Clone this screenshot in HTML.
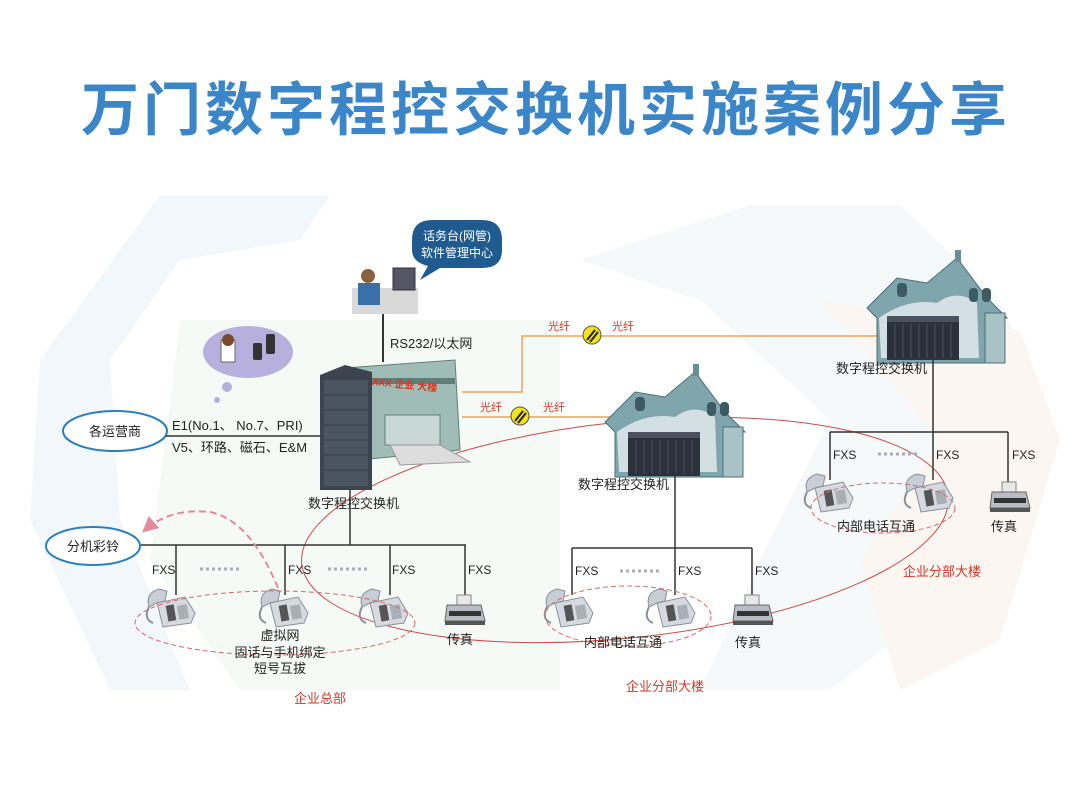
<!DOCTYPE html>
<html><head><meta charset="utf-8"><style>
body{margin:0;background:#fff}
svg{display:block}
text{font-family:"Liberation Sans","Noto Sans CJK SC",sans-serif}
</style></head><body>
<svg width="1080" height="800" viewBox="0 0 1080 800" xmlns="http://www.w3.org/2000/svg">
<defs>
<g id="phone">
<path d="M4 22 Q0 8 14 4 L22 6 L20 16 L12 18 Z" fill="#c9ced6" stroke="#8a9099" stroke-width="1"/>
<path d="M12 18 L40 12 L50 28 L46 38 L18 42 Z" fill="#d6dae0" stroke="#8a9099" stroke-width="1"/>
<rect x="22" y="20" width="8" height="16" fill="#555" transform="rotate(-10 26 28)"/>
<rect x="33" y="20" width="10" height="14" fill="#a9afb7" transform="rotate(-10 38 27)"/>
<path d="M4 22 Q-2 34 8 38" fill="none" stroke="#8a9099" stroke-width="2"/>
</g>
<g id="fax">
<rect x="12" y="0" width="14" height="10" fill="#e8e8e8" stroke="#888"/>
<path d="M2 10 L36 10 L40 26 L0 26 Z" fill="#b9bcc2" stroke="#666"/>
<rect x="4" y="16" width="32" height="5" fill="#333"/>
<rect x="0" y="26" width="40" height="4" fill="#555"/>
</g>
<g id="rack">
<rect x="0" y="0" width="72" height="44" fill="#2b313b"/>
<rect x="0" y="0" width="72" height="6" fill="#4a5260"/>
<g stroke="#48505e" stroke-width="1">
<line x1="8" y1="8" x2="8" y2="42"/><line x1="16" y1="8" x2="16" y2="42"/><line x1="24" y1="8" x2="24" y2="42"/><line x1="32" y1="8" x2="32" y2="42"/><line x1="40" y1="8" x2="40" y2="42"/><line x1="48" y1="8" x2="48" y2="42"/><line x1="56" y1="8" x2="56" y2="42"/><line x1="64" y1="8" x2="64" y2="42"/>
</g>
</g>
<g id="house">
<path d="M0 50 L30 20 L60 25 L90 0 L120 40 L140 60 L130 60 L130 105 L10 105 L10 60 Z" fill="#7fa5ad" stroke="#4d6f77"/>
<path d="M12 60 Q40 40 70 45 Q90 30 110 45 L112 100 L14 100 Z" fill="#d3dfe2"/>
<rect x="118" y="55" width="20" height="50" fill="#a9c2c6" stroke="#4d6f77"/>
<rect x="30" y="25" width="10" height="14" rx="4" fill="#3d5a63"/>
<rect x="102" y="30" width="9" height="14" rx="4" fill="#3d5a63"/>
<rect x="115" y="30" width="9" height="14" rx="4" fill="#3d5a63"/>
<rect x="88" y="-8" width="6" height="12" fill="#6b8d95"/>
</g>
<marker id="ah" markerWidth="8" markerHeight="8" refX="6" refY="4" orient="auto"><path d="M0 0 L8 4 L0 8 Z" fill="#e58a9a"/></marker>
</defs>

<polygon points="40,360 160,195 330,195 300,240 180,260 110,360 120,520 190,690 110,690 30,520" fill="#f2f7fb"/>
<polygon points="180,320 300,320 560,320 560,690 240,690 150,560" fill="#f4f9f4" opacity="0.8"/>
<polygon points="580,260 750,205 900,205 1000,300 1050,420 1000,560 830,690 700,690 760,560 830,420 700,300" fill="#f5f8f9" opacity="0.9"/>
<polygon points="820,300 1020,330 1060,440 1000,640 900,690 860,560 940,440" fill="#fcf5f1" opacity="0.9"/>

<g fill="#3a86c8" font-size="58" font-weight="bold" text-anchor="middle" style="font-family:'Noto Sans CJK SC',sans-serif">
<text x="110" y="130">万</text><text x="172" y="130">门</text><text x="234" y="130">数</text><text x="296" y="130">字</text><text x="358" y="130">程</text><text x="420" y="130">控</text><text x="482" y="130">交</text><text x="544" y="130">换</text><text x="606" y="130">机</text><text x="668" y="130">实</text><text x="730" y="130">施</text><text x="792" y="130">案</text><text x="854" y="130">例</text><text x="916" y="130">分</text><text x="978" y="130">享</text>
</g>

<ellipse cx="625" cy="530" rx="325" ry="108" fill="none" stroke="#c94a4a" stroke-width="1" transform="rotate(-6 625 530)"/>

<rect x="352" y="288" width="66" height="26" fill="#d9d9d9"/>
<rect x="393" y="268" width="22" height="22" fill="#556" stroke="#333"/>
<circle cx="368" cy="276" r="7" fill="#8a6040"/>
<rect x="358" y="283" width="22" height="22" fill="#3b6fa8"/>
<path d="M412 240 Q412 220 432 220 L482 220 Q502 220 502 240 L502 250 Q502 268 482 268 L440 268 L420 280 L428 266 Q412 262 412 250 Z" fill="#1f5b8e"/>
<text x="457" y="240" font-size="12" fill="#fff" text-anchor="middle">话务台(网管)</text>
<text x="457" y="257" font-size="12" fill="#fff" text-anchor="middle">软件管理中心</text>
<line x1="383" y1="314" x2="383" y2="362" stroke="#333" stroke-width="2"/>
<text x="390" y="348" font-size="13" fill="#222">RS232/以太网</text>

<polyline points="462,392 522,392 522,336 890,336" fill="none" stroke="#e8a45a" stroke-width="1.5"/>
<line x1="462" y1="417" x2="612" y2="417" stroke="#e8a45a" stroke-width="1.5"/>
<g font-size="11" fill="#d03a2a">
<text x="548" y="330">光纤</text><text x="612" y="330">光纤</text>
<text x="480" y="411">光纤</text><text x="543" y="411">光纤</text>
</g>
<circle cx="592" cy="335" r="9" fill="#f2e21a" stroke="#555"/>
<line x1="587" y1="340" x2="595" y2="330" stroke="#222" stroke-width="2"/><line x1="590" y1="342" x2="598" y2="332" stroke="#222" stroke-width="2"/>
<circle cx="520" cy="416" r="9" fill="#f2e21a" stroke="#555"/>
<line x1="515" y1="421" x2="523" y2="411" stroke="#222" stroke-width="2"/><line x1="518" y1="423" x2="526" y2="413" stroke="#222" stroke-width="2"/>

<path d="M345 368 L455 360 L460 450 L360 460 Z" fill="#9fbdb6" stroke="#5e7f78"/>
<rect x="360" y="378" width="95" height="6" fill="#5e7f78"/>
<text x="365" y="384" font-size="10" fill="#d32" font-weight="bold" transform="rotate(6 365 384)">XXXX 企业 大楼</text>
<rect x="385" y="415" width="55" height="30" fill="#c8d8d4" stroke="#5e7f78"/>
<path d="M390 445 L440 445 L470 462 L400 465 Z" fill="#ddd" stroke="#999"/>
<path d="M320 375 L345 365 L372 372 L372 490 L320 490 Z" fill="#3c444f"/>
<rect x="324" y="380" width="44" height="106" fill="#4b5461"/>
<g stroke="#333" stroke-width="0.8"><line x1="324" y1="395" x2="368" y2="395"/><line x1="324" y1="410" x2="368" y2="410"/><line x1="324" y1="425" x2="368" y2="425"/><line x1="324" y1="440" x2="368" y2="440"/><line x1="324" y1="455" x2="368" y2="455"/><line x1="324" y1="470" x2="368" y2="470"/></g>
<text x="308" y="508" font-size="13" fill="#222">数字程控交换机</text>

<ellipse cx="248" cy="352" rx="45" ry="26" fill="#b8b0dc"/>
<circle cx="227" cy="387" r="5" fill="#b8b0dc"/><circle cx="217" cy="400" r="3" fill="#b8b0dc"/>
<rect x="221" y="340" width="14" height="22" fill="#fff" stroke="#666"/>
<circle cx="228" cy="340" r="6" fill="#7a4a2a"/>
<rect x="253" y="343" width="9" height="17" rx="2" fill="#333"/><rect x="266" y="334" width="9" height="20" rx="2" fill="#333"/>

<ellipse cx="115" cy="431" rx="52" ry="20" fill="#fff" stroke="#2a7fc0" stroke-width="2"/>
<text x="115" y="436" font-size="13" fill="#222" text-anchor="middle">各运营商</text>
<line x1="166" y1="436" x2="320" y2="436" stroke="#333" stroke-width="1.5"/>
<text x="172" y="430" font-size="13" fill="#222">E1(No.1、 No.7、PRI)</text>
<text x="172" y="452" font-size="13" fill="#222">V5、环路、磁石、E&amp;M</text>

<g stroke="#333" stroke-width="1.5" fill="none">
<line x1="350" y1="490" x2="350" y2="545"/>
<line x1="140" y1="545" x2="466" y2="545"/>
<line x1="176" y1="545" x2="176" y2="595"/><line x1="285" y1="545" x2="285" y2="595"/>
<line x1="390" y1="545" x2="390" y2="595"/><line x1="465" y1="545" x2="465" y2="600"/>
</g>
<ellipse cx="93" cy="546" rx="47" ry="19" fill="#fff" stroke="#2a7fc0" stroke-width="2"/>
<text x="93" y="551" font-size="13" fill="#222" text-anchor="middle">分机彩铃</text>
<g font-size="12" fill="#222">
<text x="152" y="574">FXS</text><text x="288" y="574">FXS</text><text x="392" y="574">FXS</text><text x="468" y="574">FXS</text>
</g>
<g stroke="#aab" stroke-width="3" stroke-dasharray="3 3"><line x1="200" y1="569" x2="240" y2="569"/><line x1="328" y1="569" x2="368" y2="569"/></g>
<use href="#phone" x="145" y="585"/><use href="#phone" x="258" y="585"/><use href="#phone" x="358" y="585"/>
<use href="#fax" x="445" y="595"/>
<ellipse cx="275" cy="623" rx="140" ry="32" fill="none" stroke="#d66" stroke-dasharray="5 3"/>
<path d="M278 588 Q250 520 210 512 Q170 508 145 530" fill="none" stroke="#e58a9a" stroke-width="2" stroke-dasharray="7 4" marker-end="url(#ah)"/>
<g font-size="13" fill="#222" text-anchor="middle">
<text x="280" y="640">虚拟网</text><text x="280" y="657">固话与手机绑定</text><text x="280" y="673">短号互拔</text>
<text x="460" y="644">传真</text>
</g>
<text x="320" y="703" font-size="13" fill="#d03a2a" text-anchor="middle">企业总部</text>

<use href="#house" x="605" y="372"/>
<use href="#rack" x="628" y="432"/>
<text x="578" y="489" font-size="13" fill="#222">数字程控交换机</text>
<g stroke="#333" stroke-width="1.5" fill="none">
<line x1="675" y1="476" x2="675" y2="548"/><line x1="572" y1="548" x2="752" y2="548"/>
<line x1="572" y1="548" x2="572" y2="595"/><line x1="675" y1="548" x2="675" y2="595"/><line x1="752" y1="548" x2="752" y2="600"/>
</g>
<g font-size="12" fill="#222"><text x="575" y="575">FXS</text><text x="678" y="575">FXS</text><text x="755" y="575">FXS</text></g>
<line x1="620" y1="571" x2="662" y2="571" stroke="#aab" stroke-width="3" stroke-dasharray="3 3"/>
<use href="#phone" x="543" y="585"/><use href="#phone" x="645" y="585"/>
<use href="#fax" x="733" y="595"/>
<ellipse cx="628" cy="616" rx="83" ry="30" fill="none" stroke="#d66" stroke-dasharray="5 3"/>
<text x="623" y="647" font-size="13" fill="#222" text-anchor="middle">内部电话互通</text>
<text x="748" y="647" font-size="13" fill="#222" text-anchor="middle">传真</text>
<text x="665" y="691" font-size="13" fill="#d03a2a" text-anchor="middle">企业分部大楼</text>

<use href="#house" x="867" y="258"/>
<use href="#rack" x="887" y="316"/>
<text x="836" y="373" font-size="13" fill="#222">数字程控交换机</text>
<g stroke="#333" stroke-width="1.5" fill="none">
<line x1="933" y1="360" x2="933" y2="432"/><line x1="830" y1="432" x2="1008" y2="432"/>
<line x1="830" y1="432" x2="830" y2="480"/><line x1="933" y1="432" x2="933" y2="480"/><line x1="1008" y1="432" x2="1008" y2="485"/>
</g>
<g font-size="12" fill="#222"><text x="833" y="459">FXS</text><text x="936" y="459">FXS</text><text x="1012" y="459">FXS</text></g>
<line x1="878" y1="454" x2="920" y2="454" stroke="#aab" stroke-width="3" stroke-dasharray="3 3"/>
<use href="#phone" x="803" y="470"/><use href="#phone" x="903" y="470"/>
<use href="#fax" x="990" y="482"/>
<ellipse cx="883" cy="508" rx="72" ry="25" fill="none" stroke="#d66" stroke-dasharray="5 3"/>
<text x="876" y="531" font-size="13" fill="#222" text-anchor="middle">内部电话互通</text>
<text x="1004" y="531" font-size="13" fill="#222" text-anchor="middle">传真</text>
<text x="942" y="576" font-size="13" fill="#d03a2a" text-anchor="middle">企业分部大楼</text>
</svg>
</body></html>
